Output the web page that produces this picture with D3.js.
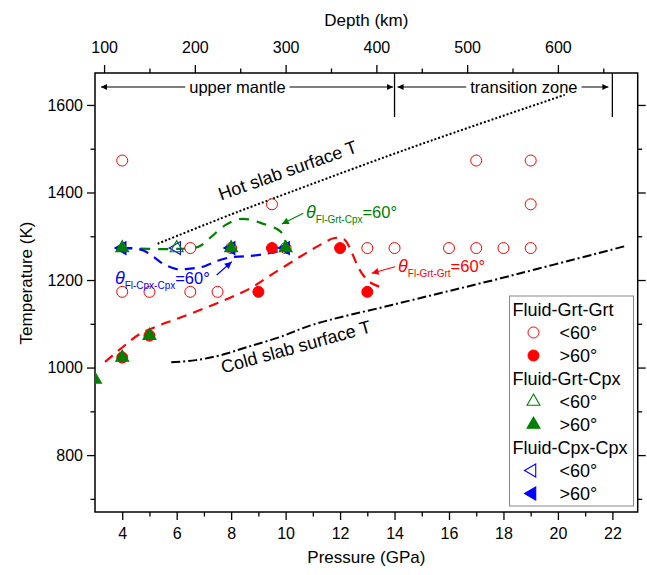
<!DOCTYPE html>
<html>
<head>
<meta charset="utf-8">
<script src="https://cdn.jsdelivr.net/npm/d3@7"></script>
<style>
  body { margin: 0; background: #fff; }
  svg text { font-family: "Liberation Sans", Arial, sans-serif; }
</style>
</head>
<body>
<svg id="chart" width="647" height="575"></svg>
<script>
// ---- data (pressure GPa, temperature K) ----
var grtGrtOpen = [[4,1473],[4,1173],[5,1173],[6.5,1173],[7.5,1173],[6.5,1273],[8,1273],[10,1273],
                  [9.5,1373],[13,1273],[14,1273],[16,1273],[17,1273],[18,1273],[19,1273],
                  [19,1373],[17,1473],[19,1473]];
var grtGrtFilled = [[4,1023],[5,1073],[9,1173],[9.5,1273],[12,1273],[13,1173]];
var grtCpxOpen = [[6,1273]];
var grtCpxFilled = [[3,973],[4,1023],[5,1073],[4,1273],[8,1273],[10,1273]];
var cpxCpxOpen = [[6,1273]];
var cpxCpxFilled = [[4,1273],[8,1273],[10,1273]];

// theta = 60 deg boundaries
var grtGrtLine = [[3.37,1013],[4.1,1051],[4.6,1075],[5.3,1095],[6,1111],[7,1135],[7.9,1158],[8.7,1181],
                  [9.5,1213],[10.5,1252],[11.2,1278],[11.8,1296],[12.15,1293],[12.35,1274],[12.5,1253],
                  [12.66,1230],[12.85,1211],[13.1,1195],[13.6,1181]];
var grtCpxLine = [[4,1273],[5,1271],[6,1271],[6.8,1276],[7.2,1295],[7.8,1326],[8.3,1339],[8.7,1338],
                  [9.2,1328],[9.7,1316],[9.95,1300],[10,1273]];
var cpxCpxLine = [[4,1273],[4.5,1272],[4.8,1267],[5.15,1253],[5.5,1237],[6,1225],[6.5,1226],[7,1231],
                  [7.5,1244],[8,1252],[8.5,1254],[9.2,1259],[9.8,1267],[10,1273]];

// slab surface geotherms
var hotSlab = [[5.3,1283],[8,1350],[9.06,1375],[14.5,1500],[20.25,1623]];
var coldSlab = [[5.8,1012],[6.7,1017],[7.6,1028],[8.6,1047],[9.8,1070],[11,1098],[13.9,1143],[17.9,1204],[22.5,1278]];

// zones (pressure bounds) and ticks
var zoneBounds = [14, 22];
var zoneNames = ['upper mantle', 'transition zone'];
var zoneFrom = [3, 14];
var zoneTo = [14, 22];
var pTicks = [4,6,8,10,12,14,16,18,20,22];
var pMinor = [5,7,9,11,13,15,17,19,21];
var tTicks = [800,1000,1200,1400,1600];
var tMinor = [700,900,1100,1300,1500];
var dTicks = [100,200,300,400,500,600];
var dMinor = [150,250,350,450,550,650];
var kmPerGPa = 30;

var red = '#ff0000', green = '#008000', blue = '#0000ff';

var svg = d3.select('#chart');
var pl = 95, pr = 637.7, pt = 73, pb = 512;

var x = d3.scaleLinear().domain([3, 22.93]).range([pl, pr]);
var y = d3.scaleLinear().domain([670, 1673]).range([pb, pt]);
var depth = d3.scaleLinear().domain([3 * kmPerGPa, 22.93 * kmPerGPa]).range([pl, pr]);

var defs = svg.append('defs');
defs.append('clipPath').attr('id', 'plot')
  .append('rect').attr('x', pl).attr('y', pt).attr('width', pr - pl).attr('height', pb - pt);

// arrow heads
function marker(id, color, w, l) {
  defs.append('marker').attr('id', id)
    .attr('markerUnits', 'userSpaceOnUse')
    .attr('viewBox', '0 0 10 10').attr('refX', 10).attr('refY', 5)
    .attr('markerWidth', l).attr('markerHeight', w).attr('orient', 'auto-start-reverse')
    .append('path').attr('d', 'M0,0L10,5L0,10Z').attr('fill', color);
}
marker('arrBlack', '#000', 6, 11);
marker('arrGreen', green, 7, 9);
marker('arrBlue', blue, 7, 9);
marker('arrRed', red, 7, 9);

// ---- axes ----
function tidy(g, size) {
  g.select('.domain').remove();
  g.selectAll('line').attr('stroke', '#000').attr('stroke-width', 1.3);
  g.selectAll('text').attr('font-size', size).attr('fill', '#000')
    .style('font-family', '"Liberation Sans", Arial, sans-serif');
}
var fmt = d3.format('d');
svg.append('g').attr('transform', 'translate(0,' + pb + ')')
  .call(d3.axisBottom(x).tickValues(pTicks).tickSize(8).tickPadding(7.5).tickFormat(fmt)).call(tidy, 16);
svg.append('g').attr('transform', 'translate(0,' + pb + ')')
  .call(d3.axisBottom(x).tickValues(pMinor).tickSize(4.5).tickFormat('')).call(tidy, 16);
svg.append('g').attr('transform', 'translate(' + pl + ',0)')
  .call(d3.axisLeft(y).tickValues(tTicks).tickSize(8).tickPadding(4).tickFormat(fmt)).call(tidy, 16);
svg.append('g').attr('transform', 'translate(' + pl + ',0)')
  .call(d3.axisLeft(y).tickValues(tMinor).tickSize(4.5).tickFormat('')).call(tidy, 16);
svg.append('g').attr('transform', 'translate(' + pr + ',0)')
  .call(d3.axisRight(y).tickValues(tTicks).tickSize(8).tickFormat('')).call(tidy, 16);
svg.append('g').attr('transform', 'translate(' + pr + ',0)')
  .call(d3.axisRight(y).tickValues(tMinor).tickSize(4.5).tickFormat('')).call(tidy, 16);
svg.append('g').attr('transform', 'translate(0,' + pt + ')')
  .call(d3.axisTop(depth).tickValues(dTicks).tickSize(8).tickPadding(12).tickFormat(fmt)).call(tidy, 16);
svg.append('g').attr('transform', 'translate(0,' + pt + ')')
  .call(d3.axisTop(depth).tickValues(dMinor).tickSize(4.5).tickFormat('')).call(tidy, 16);

svg.append('rect').attr('x', pl).attr('y', pt).attr('width', pr - pl).attr('height', pb - pt)
  .attr('fill', 'none').attr('stroke', '#000').attr('stroke-width', 1.5);

svg.append('text').attr('x', (pl + pr) / 2).attr('y', 26).attr('text-anchor', 'middle')
  .attr('font-size', 17).text('Depth (km)');
svg.append('text').attr('x', (pl + pr) / 2).attr('y', 563).attr('text-anchor', 'middle')
  .attr('font-size', 17).text('Pressure (GPa)');
svg.append('text').attr('transform', 'translate(32,283) rotate(-90)').attr('text-anchor', 'middle')
  .attr('font-size', 17).text('Temperature (K)');

// ---- zones ----
zoneBounds.forEach(function(p) {
  svg.append('line').attr('x1', x(p)).attr('x2', x(p)).attr('y1', pt).attr('y2', pt + 44)
    .attr('stroke', '#000').attr('stroke-width', 1.3);
});
var zoneLabelAt = [8.23, 18.75];
zoneNames.forEach(function(name, i) {
  var ay = 87;
  var g = svg.append('g');
  g.append('line').attr('x1', x(zoneFrom[i]) + (i ? 3 : 6)).attr('x2', x(zoneTo[i]) - (i ? 4 : 1.5))
    .attr('y1', ay).attr('y2', ay).attr('stroke', '#000').attr('stroke-width', 1.2)
    .attr('marker-start', 'url(#arrBlack)').attr('marker-end', 'url(#arrBlack)');
  var bg = g.append('rect');
  var t = g.append('text').attr('x', x(zoneLabelAt[i])).attr('y', ay + 6).attr('text-anchor', 'middle')
    .attr('font-size', 16.5).text(name);
  var b = t.node().getBBox();
  bg.attr('x', b.x - 4).attr('y', ay - 3).attr('width', b.width + 8).attr('height', 6).attr('fill', '#fff');
});

// ---- curves ----
var plot = svg.append('g').attr('clip-path', 'url(#plot)');
var line = d3.line().x(function(d) { return x(d[0]); }).y(function(d) { return y(d[1]); })
  .curve(d3.curveCatmullRom.alpha(0.5));

plot.append('path').datum(coldSlab).attr('d', line).attr('fill', 'none').attr('stroke', '#000')
  .attr('stroke-width', 2).attr('stroke-dasharray', '9,3,2,3');
plot.append('path').datum(hotSlab).attr('d', line).attr('fill', 'none').attr('stroke', '#000')
  .attr('stroke-width', 2).attr('stroke-dasharray', '2,2');
plot.append('path').datum(grtGrtLine).attr('d', line).attr('fill', 'none').attr('stroke', red)
  .attr('stroke-width', 2.2).attr('stroke-dasharray', '10,7');
plot.append('path').datum(grtCpxLine).attr('d', line).attr('fill', 'none').attr('stroke', green)
  .attr('stroke-width', 2.2).attr('stroke-dasharray', '10,8');
plot.append('path').datum(cpxCpxLine).attr('d', line).attr('fill', 'none').attr('stroke', blue)
  .attr('stroke-width', 2.2).attr('stroke-dasharray', '10,7');

// ---- markers ----
var tri = d3.symbol().type(d3.symbolTriangle).size(72);
function circles(data, filled) {
  plot.selectAll(null).data(data).enter().append('circle')
    .attr('cx', function(d) { return x(d[0]); }).attr('cy', function(d) { return y(d[1]); })
    .attr('r', 5.5).attr('fill', filled ? red : '#fff').attr('stroke', red).attr('stroke-width', 1);
}
function triangles(data, color, filled, rot) {
  plot.selectAll(null).data(data).enter().append('path').attr('d', tri)
    .attr('transform', function(d) { return 'translate(' + x(d[0]) + ',' + y(d[1]) + ') rotate(' + rot + ')'; })
    .attr('fill', filled ? color : 'none').attr('stroke', color).attr('stroke-width', 1.1);
}
circles(grtGrtOpen, false);
circles(grtGrtFilled, true);
triangles(cpxCpxOpen, blue, false, -90);
triangles(cpxCpxFilled, blue, true, -90);
triangles(grtCpxOpen, green, false, 0);
triangles(grtCpxFilled, green, true, 0);

// ---- annotations ----
svg.append('text').attr('transform', 'translate(' + x(7.63) + ',' + y(1381.7) + ') rotate(-19.5)')
  .attr('font-size', 18).text('Hot slab surface T');
svg.append('text').attr('transform', 'translate(' + x(7.7) + ',' + y(986.4) + ') rotate(-15.5)')
  .attr('font-size', 18).text('Cold slab surface T');

var thetaLabels = [
  {sub: 'Fl-Grt-Cpx', color: green, at: [10.75, 1340.6], tail: [10.65, 1352.4], head: [9.86, 1328], arrow: 'arrGreen'},
  {sub: 'Fl-Cpx-Cpx', color: blue, at: [3.73, 1189.8], tail: [7.47, 1211.5], head: [8.02, 1241.9], arrow: 'arrBlue'},
  {sub: 'Fl-Grt-Grt', color: red, at: [14.13, 1217.2], tail: [14.02, 1230.4], head: [13.16, 1215.4], arrow: 'arrRed'}
];
thetaLabels.forEach(function(a) {
  var t = svg.append('text').attr('x', x(a.at[0])).attr('y', y(a.at[1])).attr('fill', a.color).attr('font-size', 16.5);
  t.append('tspan').attr('font-style', 'italic').attr('font-size', 18).text('θ');
  t.append('tspan').attr('font-size', 10).attr('dy', 4.5).text(a.sub);
  t.append('tspan').attr('dy', -4.5).text('=60°');
  svg.append('line').attr('x1', x(a.tail[0])).attr('y1', y(a.tail[1]))
    .attr('x2', x(a.head[0])).attr('y2', y(a.head[1]))
    .attr('stroke', a.color).attr('stroke-width', 1.2).attr('marker-end', 'url(#' + a.arrow + ')');
});

// ---- legend ----
var legendTitles = ['Fluid-Grt-Grt', 'Fluid-Grt-Cpx', 'Fluid-Cpx-Cpx'];
var legendLabels = ['<60°', '>60°'];
var legendColors = [red, green, blue];
var lg = svg.append('g');
lg.append('rect').attr('x', 509.5).attr('y', 296).attr('width', 124).attr('height', 210)
  .attr('fill', '#fff').attr('stroke', '#888').attr('stroke-width', 1);
legendTitles.forEach(function(title, i) {
  var cy = 309.5 + i * 69;
  lg.append('text').attr('x', 512.5).attr('y', cy).attr('dy', '0.36em').attr('font-size', 18).text(title);
  legendLabels.forEach(function(lab, j) {
    var ry = cy + 23 * (j + 1);
    var filled = j === 1, c = legendColors[i];
    if (i === 0) {
      lg.append('circle').attr('cx', 533.5).attr('cy', ry).attr('r', 5.5)
        .attr('fill', filled ? c : '#fff').attr('stroke', c).attr('stroke-width', 1);
    } else {
      lg.append('path').attr('d', tri)
        .attr('transform', 'translate(' + (i === 2 ? 532 : 533.5) + ',' + ry + ') rotate(' + (i === 2 ? -90 : 0) + ')')
        .attr('fill', filled ? c : 'none').attr('stroke', c).attr('stroke-width', 1.1);
    }
    lg.append('text').attr('x', 559.5).attr('y', ry).attr('dy', '0.36em').attr('font-size', 18).text(lab);
  });
});
</script>
</body>
</html>
